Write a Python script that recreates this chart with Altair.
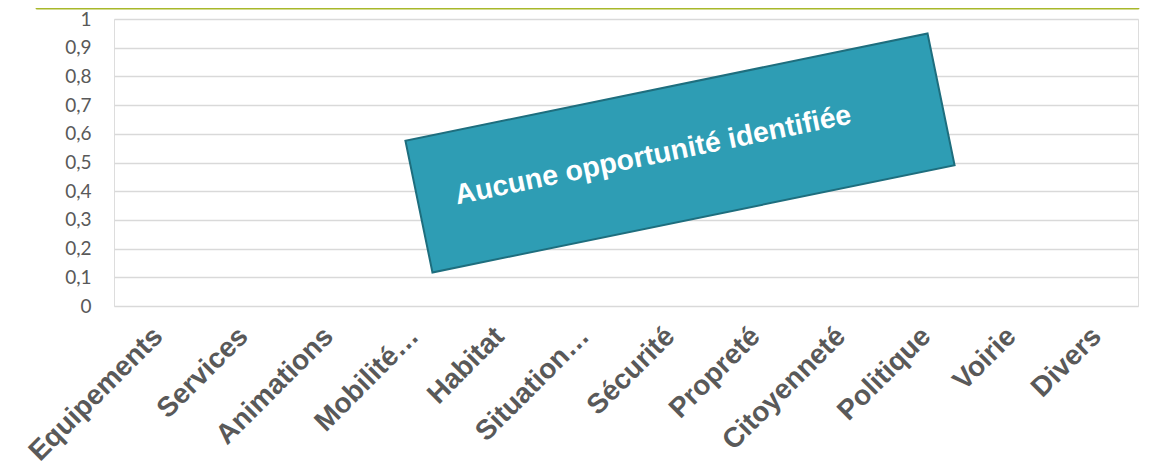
import altair as alt
import pandas as pd

categories = ["Equipements", "Services", "Animations", "Mobilité…", "Habitat",
              "Situation…", "Sécurité", "Propreté", "Citoyenneté", "Politique",
              "Voirie", "Divers"]
values = [0] * len(categories)
annotation_text = "Aucune opportunité identifiée"

df = pd.DataFrame({"categorie": categories, "valeur": values})

W, H = 1024, 287

base = alt.Chart(df).encode(
    x=alt.X("categorie:N", sort=categories, title=None,
            scale=alt.Scale(paddingInner=0, paddingOuter=0),
            axis=alt.Axis(labelAngle=-45, labelAlign="right", labelBaseline="top",
                          labelFont="Liberation Sans", labelFontWeight="bold",
                          labelFontSize=28, labelColor="#595959", labelPadding=16,
                          labelOffset=-8,
                          domain=False, ticks=False, grid=False, labelLimit=400)),
    y=alt.Y("valeur:Q", title=None,
            scale=alt.Scale(domain=[0, 1], nice=False),
            axis=alt.Axis(values=[i / 10 for i in range(11)],
                          labelExpr="replace(format(datum.value, '.1~f'), '.', ',')",
                          labelFont="Lato", labelFontSize=19, labelColor="#595959",
                          labelPadding=23, domain=False, ticks=False,
                          grid=True, gridColor="#D9D9D9", gridWidth=1.6)),
)

bars = base.mark_bar(color="#4472C4")

# rotated annotation box
box = alt.Chart(df).mark_point(
    shape="M-1,-0.2523 L1,-0.2523 L1,0.2523 L-1,0.2523 Z",
    filled=True, fill="#2E9DB4", stroke="#1E6E7E", strokeWidth=2,
    opacity=1, angle=348.4, size=533 * 533,
).encode(x=alt.value(566), y=alt.value(134)).transform_filter(
    alt.datum.categorie == categories[0])

label = alt.Chart(df).mark_text(
    text=annotation_text, font="Liberation Sans", fontWeight="bold",
    fontSize=28.5, color="white", angle=348.4, align="center", baseline="middle",
).encode(x=alt.value(539), y=alt.value(136)).transform_filter(
    alt.datum.categorie == categories[0])

topline = alt.Chart(df).mark_rule(
    color="#A8B82A", strokeWidth=3, strokeCap="round"
).encode(x=alt.value(-77), x2=alt.value(1024), y=alt.value(-11)).transform_filter(
    alt.datum.categorie == categories[0])

chart = alt.layer(bars, topline, box, label).properties(
    width=W, height=H,
    padding={"left": 106, "top": 11, "right": 15, "bottom": 162},
    autosize=alt.AutoSizeParams(type="none"),
).configure_view(stroke=None).configure(background="white")

chart.save("out.html", embed_options={"renderer": "svg", "actions": False})
